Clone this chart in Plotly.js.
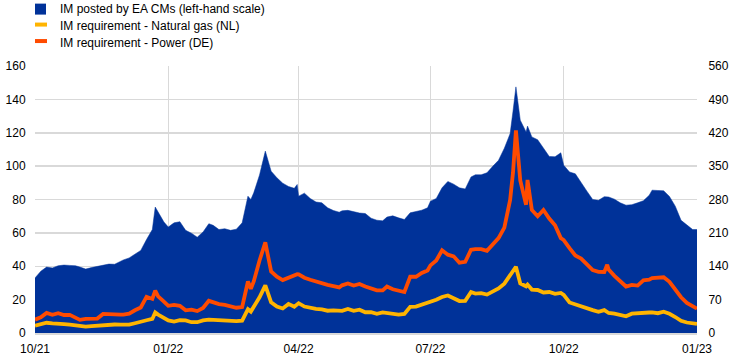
<!DOCTYPE html>
<html>
<head>
<meta charset="utf-8">
<script src="https://cdn.plot.ly/plotly-3.0.1.min.js"></script>
<style>html,body{margin:0;padding:0;background:#fff;}#chart{width:744px;height:362px;}</style>
</head>
<body>
<div id="chart"></div>
<script>
const dates = ['2021-10-01','2021-10-05','2021-10-09','2021-10-13','2021-10-17','2021-10-21','2021-10-25','2021-10-29',
'2021-11-01','2021-11-05','2021-11-09','2021-11-13','2021-11-17','2021-11-21','2021-11-25','2021-11-29',
'2021-12-01','2021-12-05','2021-12-09','2021-12-13','2021-12-17','2021-12-21','2021-12-23','2021-12-25','2021-12-29',
'2022-01-01','2022-01-05','2022-01-09','2022-01-13','2022-01-17','2022-01-21','2022-01-25','2022-01-29',
'2022-02-01','2022-02-05','2022-02-09','2022-02-13','2022-02-17','2022-02-21','2022-02-25','2022-02-27',
'2022-03-01','2022-03-05','2022-03-09','2022-03-13','2022-03-17','2022-03-21','2022-03-25','2022-03-29','2022-03-31',
'2022-04-01','2022-04-05','2022-04-09','2022-04-13','2022-04-17','2022-04-21','2022-04-25','2022-04-29',
'2022-05-01','2022-05-05','2022-05-09','2022-05-13','2022-05-17','2022-05-21','2022-05-25','2022-05-29',
'2022-06-01','2022-06-05','2022-06-09','2022-06-13','2022-06-17','2022-06-21','2022-06-25','2022-06-29',
'2022-07-01','2022-07-05','2022-07-09','2022-07-13','2022-07-17','2022-07-21','2022-07-25','2022-07-29',
'2022-08-01','2022-08-05','2022-08-09','2022-08-13','2022-08-17','2022-08-21','2022-08-25','2022-08-27','2022-08-29',
'2022-09-01','2022-09-05','2022-09-06','2022-09-09','2022-09-13','2022-09-17','2022-09-21','2022-09-25','2022-09-29',
'2022-10-01','2022-10-05','2022-10-09','2022-10-13','2022-10-17','2022-10-21','2022-10-25','2022-10-29','2022-10-31',
'2022-11-01','2022-11-05','2022-11-09','2022-11-13','2022-11-17','2022-11-21','2022-11-25','2022-11-29',
'2022-12-01','2022-12-05','2022-12-09','2022-12-13','2022-12-17','2022-12-21','2022-12-25','2022-12-29','2023-01-01'];

// IM posted by EA CMs (EUR bn, left-hand scale)
const imPosted = [33,37,39.5,39,40.3,40.7,40.5,40.3,
39.5,38.3,39.2,39.8,40.8,41.3,41.2,43,
43.8,45,47.2,49.5,56,62,75.5,72.7,66.5,
63.5,66,66.7,61.5,59.8,57.4,60.5,65.5,
64.5,62,62.5,61.5,62.2,66,82,80,
84,94.7,109,97,93,89.8,87.8,86.7,89,
82,83.8,80.6,78.5,78,75,73.4,72.4,
73.2,73.5,72.7,71.9,71.6,68.8,67.6,67.2,
69.5,70.2,69,68,72,72.8,73.6,75,
79,80.6,87,90.8,89.2,87,86.3,93.5,
94.8,94.8,96,99.9,103.5,110.7,119.5,133,147.5,
127.5,120.5,124,117.5,115.8,110.5,105.8,105.6,108,
100.5,96.5,95.4,89.8,85,80,79.5,81.7,81.7,
81.5,80.2,78,76.6,76.9,78,79.3,82.5,
85.6,85.4,85.2,81.8,76,67.5,64.8,62,62];

// IM requirement - Natural gas (NL), right-hand scale
const imGas = [15.5,17.5,21.5,20,20.3,18.7,17.5,16.5,
14,13.5,14.3,15.2,18,18.5,17.8,17.7,
17,17.5,20.5,22.7,26.7,29.5,43,38.7,31,
26.5,24,26.7,26.3,22.6,22.6,26.6,28.2,
27.8,26.5,24.8,25.8,25,25.8,50,45,
55,75,100,64.5,55.5,51.4,61,55,60,
62.5,55.5,52.5,50.8,49.4,46.7,47.4,47.3,
46.5,50.3,46.6,48.8,43.5,43.5,40.2,43.2,
42,40,38.7,40,55,55.3,59,62.6,
65.5,69.8,75.5,78.8,73,67,67.5,86,
82.6,83.5,80.6,88,93.5,103.5,122.5,133,139,
104,98,101.5,91,90.2,85,86,82,84,
80,64,59.6,56.5,51.6,48,44.5,48,44,
42,40.7,38.5,35,40.5,40.7,42,43,
43.3,41.5,44.5,40.2,33.5,25.5,22,19.3,19];

// IM requirement - Power (DE), right-hand scale
const imPower = [28,33,42.2,38,41.5,37.8,38,33,
27.5,29.5,30.3,30.3,40,39,38.7,38.7,
38.7,40.5,47.7,53.5,76,71.5,89,77,66,
57,59,57,47.5,49,46,52.3,67.5,
64,60.5,59,55,53,54.5,108,92.5,
108,152,190,129,118,111,116,122,123.5,
123,116,111.8,108,103.8,100.8,98.3,95.5,
100,103.8,99.6,102.8,97.5,93.5,89.4,89.5,
97.5,91.8,88.6,86,118,118,125.8,131,
141.8,152,173.5,164.3,160.8,147.5,149.2,174.5,
176,176,172.3,186.3,199,221,279,337,425,
320,269,321,258,245,258,240,226,199,
195,178,162.5,156,143.5,132,128.4,128,143,
133,120,110,97.5,101,99.5,110.6,112,
115.3,115.8,116.8,107.5,91,75,63,57,51];

const xTickVals = ['2021-10-01','2022-01-01','2022-04-01','2022-07-01','2022-10-01','2023-01-01'];
const xTickText = ['10/21','01/22','04/22','07/22','10/22','01/23'];
const leftTicks = [0,20,40,60,80,100,120,140,160];
const rightTicks = [0,70,140,210,280,350,420,490,560];
const legendNames = ['IM posted by EA CMs (left-hand scale)','IM requirement - Natural gas (NL)','IM requirement - Power (DE)'];

const BLUE = '#003299', YELLOW = '#ffb400', ORANGE = '#ff4b00';
const FONT = 'Arial, "Liberation Sans", sans-serif';

const traces = [
  {x: dates, y: imPosted, type: 'scatter', mode: 'lines', fill: 'tozeroy', fillcolor: BLUE,
   line: {color: BLUE, width: 0.5}, name: legendNames[0], yaxis: 'y', hoverinfo: 'skip'},
  {x: dates, y: imPower, type: 'scatter', mode: 'lines', line: {color: ORANGE, width: 3.8},
   name: legendNames[2], yaxis: 'y2', hoverinfo: 'skip'},
  {x: dates, y: imGas, type: 'scatter', mode: 'lines', line: {color: YELLOW, width: 3.8},
   name: legendNames[1], yaxis: 'y2', hoverinfo: 'skip'}
];

const W = 662, H = 267.5, L = 35, T = 66;
const px = v => (v - L) / W;
const py = v => (T + H - v) / H;

const layout = {
  width: 744, height: 362,
  margin: {l: 35, r: 47, t: 66, b: 28.5},
  paper_bgcolor: '#fff', plot_bgcolor: '#fff',
  showlegend: false,
  font: {family: FONT, size: 12, color: '#000'},
  xaxis: {
    type: 'date', range: ['2021-10-01','2023-01-01'],
    tickmode: 'array', tickvals: xTickVals, ticktext: xTickText,
    showgrid: true, gridcolor: '#d9d9d9', gridwidth: 1.5,
    showline: true, linecolor: '#d9d9d9', linewidth: 1.5,
    ticks: 'outside', ticklen: 4, tickcolor: 'rgba(0,0,0,0)',
    tickfont: {family: FONT, size: 12, color: '#000'}, zeroline: false, fixedrange: true
  },
  yaxis: {
    range: [0, 160], tickmode: 'array', tickvals: leftTicks,
    showgrid: true, gridcolor: '#d9d9d9', gridwidth: 1.5, zeroline: false,
    ticks: 'outside', ticklen: 6, tickcolor: 'rgba(0,0,0,0)',
    tickfont: {family: FONT, size: 12, color: '#000'}, fixedrange: true
  },
  yaxis2: {
    range: [0, 560], tickmode: 'array', tickvals: rightTicks, overlaying: 'y', side: 'right',
    showgrid: false, zeroline: false,
    ticks: 'outside', ticklen: 8, tickcolor: 'rgba(0,0,0,0)',
    tickfont: {family: FONT, size: 12, color: '#000'}, fixedrange: true
  },
  shapes: [
    {type: 'rect', xref: 'paper', yref: 'paper', x0: px(35), x1: px(46), y0: py(14.5), y1: py(3.5),
     fillcolor: BLUE, line: {width: 0}},
    {type: 'line', xref: 'paper', yref: 'paper', x0: px(35), x1: px(47), y0: py(24.5), y1: py(24.5),
     line: {color: YELLOW, width: 4}},
    {type: 'line', xref: 'paper', yref: 'paper', x0: px(35), x1: px(47), y0: py(41), y1: py(41),
     line: {color: ORANGE, width: 4}}
  ],
  annotations: [
    {xref: 'paper', yref: 'paper', x: px(58), y: py(9), text: legendNames[0], showarrow: false,
     xanchor: 'left', yanchor: 'middle', font: {family: FONT, size: 12, color: '#000'}},
    {xref: 'paper', yref: 'paper', x: px(58), y: py(25.5), text: legendNames[1], showarrow: false,
     xanchor: 'left', yanchor: 'middle', font: {family: FONT, size: 12, color: '#000'}},
    {xref: 'paper', yref: 'paper', x: px(58), y: py(42.5), text: legendNames[2], showarrow: false,
     xanchor: 'left', yanchor: 'middle', font: {family: FONT, size: 12, color: '#000'}}
  ]
};

Plotly.newPlot('chart', traces, layout, {displayModeBar: false, staticPlot: true});
</script>
</body>
</html>
